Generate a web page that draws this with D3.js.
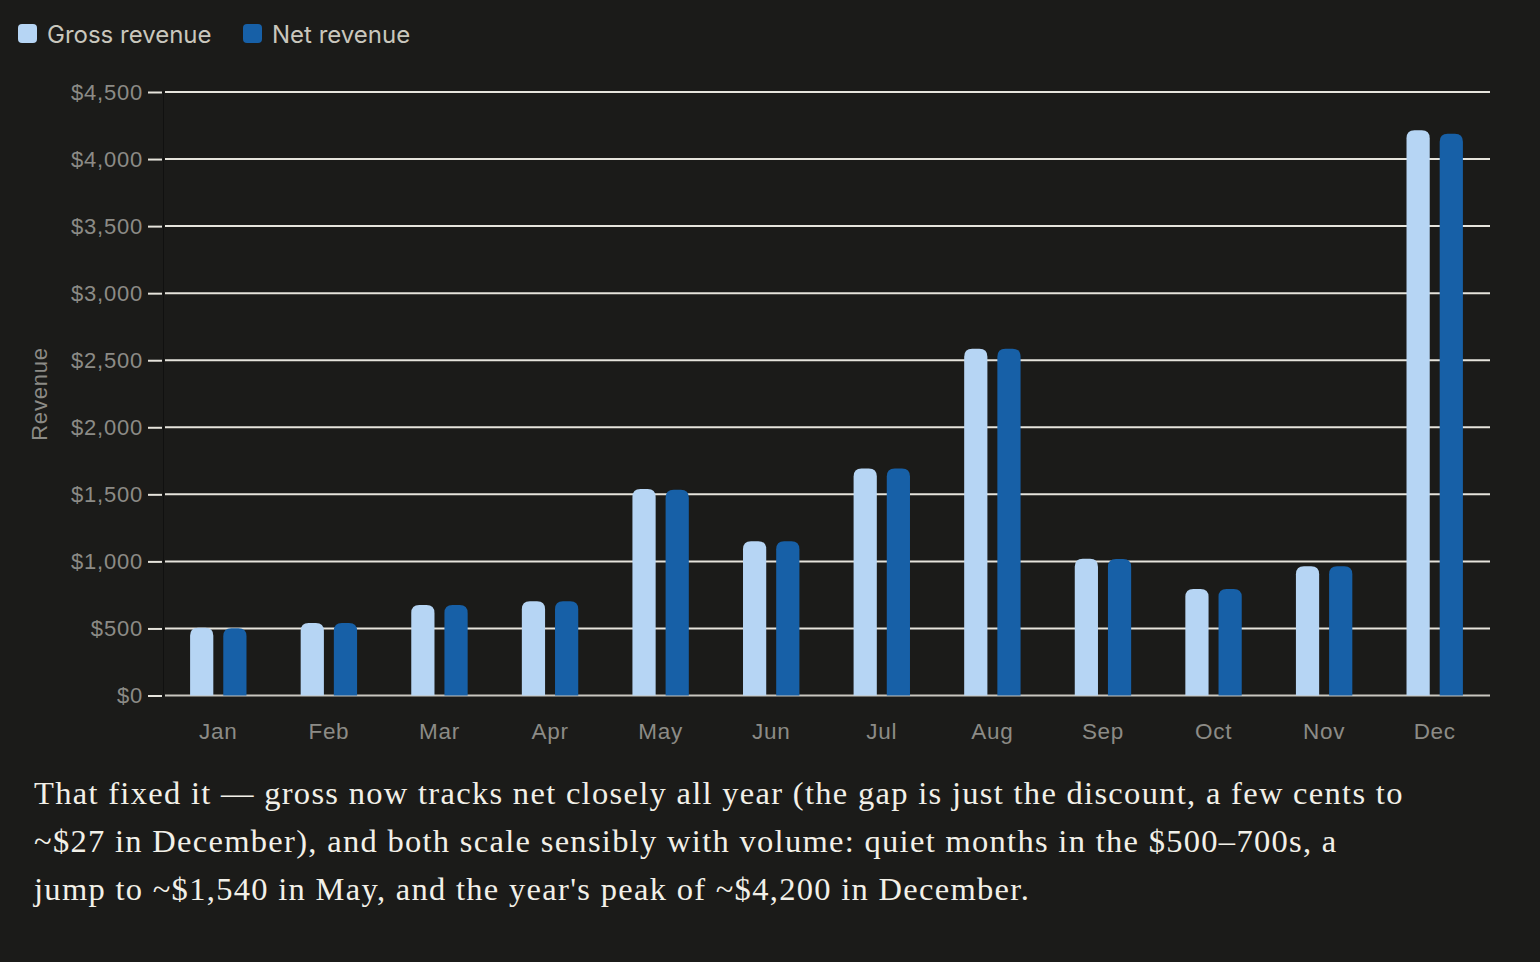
<!DOCTYPE html>
<html>
<head>
<meta charset="utf-8">
<script src="https://cdn.jsdelivr.net/npm/d3@7"></script>
<style>
  html, body { margin: 0; padding: 0; background: #1b1b19; }
  svg { display: block; }
</style>
</head>
<body>
<svg id="chart" width="1540" height="962"></svg>
<script>
const months = ["Jan","Feb","Mar","Apr","May","Jun","Jul","Aug","Sep","Oct","Nov","Dec"];
const grossRevenue = [505, 541, 675, 703, 1539, 1151, 1693, 2586, 1019, 795, 964, 4215];
const netRevenue   = [502, 540, 674, 702, 1534, 1150, 1692, 2585, 1018, 794, 963, 4188];
const yTicks = [0, 500, 1000, 1500, 2000, 2500, 3000, 3500, 4000, 4500];
const seriesNames = ["Gross revenue", "Net revenue"];
const seriesColors = ["#b6d5f4", "#1760a7"];
const captionLines = [
  "That fixed it \u2014 gross now tracks net closely all year (the gap is just the discount, a few cents to",
  "~$27 in December), and both scale sensibly with volume: quiet months in the $500\u2013700s, a",
  "jump to ~$1,540 in May, and the year's peak of ~$4,200 in December."
];

const svg = d3.select("#chart");
const plotLeft = 163, plotRight = 1490, plotTop = 92, plotBottom = 695.5;
const sansFont = "'Liberation Sans', Arial, sans-serif";

const x0 = d3.scaleBand().domain(months).range([plotLeft, plotRight]).paddingInner(0.49).paddingOuter(0.245);
const x1 = d3.scaleBand().domain(seriesNames).range([0, x0.bandwidth()]).paddingInner(0.3);
const y = d3.scaleLinear().domain([0, 4500]).range([plotBottom, plotTop]);

// gridlines
svg.append("g").selectAll("line").data(yTicks).join("line")
  .attr("x1", plotLeft + 2).attr("x2", plotRight)
  .attr("y1", d => y(d)).attr("y2", d => y(d))
  .attr("stroke", d => d === 0 ? "#c9c7c0" : "#e6e4dc").attr("stroke-width", 2);

// y axis
const yAxis = svg.append("g").attr("transform", `translate(${plotLeft},0)`)
  .call(d3.axisLeft(y).tickValues(yTicks).tickSize(14).tickPadding(6)
    .tickFormat(d => "$" + d3.format(",")(d)));
yAxis.select(".domain").attr("stroke", "#111110").attr("stroke-width", 1);
yAxis.selectAll(".tick line").attr("stroke", "#e6e4dc").attr("stroke-width", 2).attr("transform", "translate(-1,0)");
yAxis.selectAll(".tick text").attr("fill", "#8c8b86")
  .attr("font-family", sansFont).attr("font-size", 22).attr("letter-spacing", 0.8);

// y axis title
svg.append("text").attr("transform", `translate(47,${394}) rotate(-90)`)
  .attr("text-anchor", "middle").attr("fill", "#8c8b86")
  .attr("font-family", sansFont).attr("font-size", 22).attr("letter-spacing", 0.8)
  .text("Revenue");

// x axis labels
const xAxis = svg.append("g").attr("transform", `translate(0,${plotBottom})`)
  .call(d3.axisBottom(x0).tickSize(0).tickPadding(28));
xAxis.select(".domain").remove();
xAxis.selectAll(".tick text").attr("fill", "#8c8b86")
  .attr("font-family", sansFont).attr("font-size", 22.5).attr("letter-spacing", 0.7);

// bars with rounded top
function topRounded(x, yTop, w, h, r) {
  r = Math.min(r, w / 2, h);
  return `M${x},${yTop + h}V${yTop + r}Q${x},${yTop} ${x + r},${yTop}H${x + w - r}Q${x + w},${yTop} ${x + w},${yTop + r}V${yTop + h}Z`;
}
const data = months.map((m, i) => ({ m, vals: [grossRevenue[i], netRevenue[i]] }));
const groups = svg.append("g").selectAll("g").data(data).join("g")
  .attr("transform", d => `translate(${x0(d.m)},0)`);
groups.selectAll("path").data(d => d.vals.map((v, i) => ({ v, k: seriesNames[i], c: seriesColors[i] })))
  .join("path")
  .attr("d", d => topRounded(x1(d.k), y(d.v), x1.bandwidth(), plotBottom - y(d.v), 8))
  .attr("fill", d => d.c);

// legend
const legend = svg.append("g");
const legendX = [18, 243];
seriesNames.forEach((name, i) => {
  const g = legend.append("g").attr("transform", `translate(${legendX[i]},24)`);
  g.append("rect").attr("width", 19).attr("height", 19).attr("rx", 4).attr("fill", seriesColors[i]);
  g.append("text").attr("x", 29).attr("y", 18.5).attr("fill", "#c9c7bd")
    .attr("font-family", "Inter, 'Noto Sans', sans-serif").attr("font-size", 24)
    .text(name);
});

// caption
const cap = svg.append("text").attr("fill", "#f2f0e8")
  .attr("font-family", "'Liberation Serif', 'DejaVu Serif', serif").attr("font-size", 32.5);
const tspans = captionLines.map((line, i) =>
  cap.append("tspan").attr("x", 34).attr("y", 804 + i * 48).text(line));
// fit letter spacing so the first line spans the same width as the reference paragraph
const w0 = tspans[0].node().getComputedTextLength();
const ls = (1370 - w0) / captionLines[0].length;
cap.attr("letter-spacing", ls.toFixed(2));
</script>
</body>
</html>
